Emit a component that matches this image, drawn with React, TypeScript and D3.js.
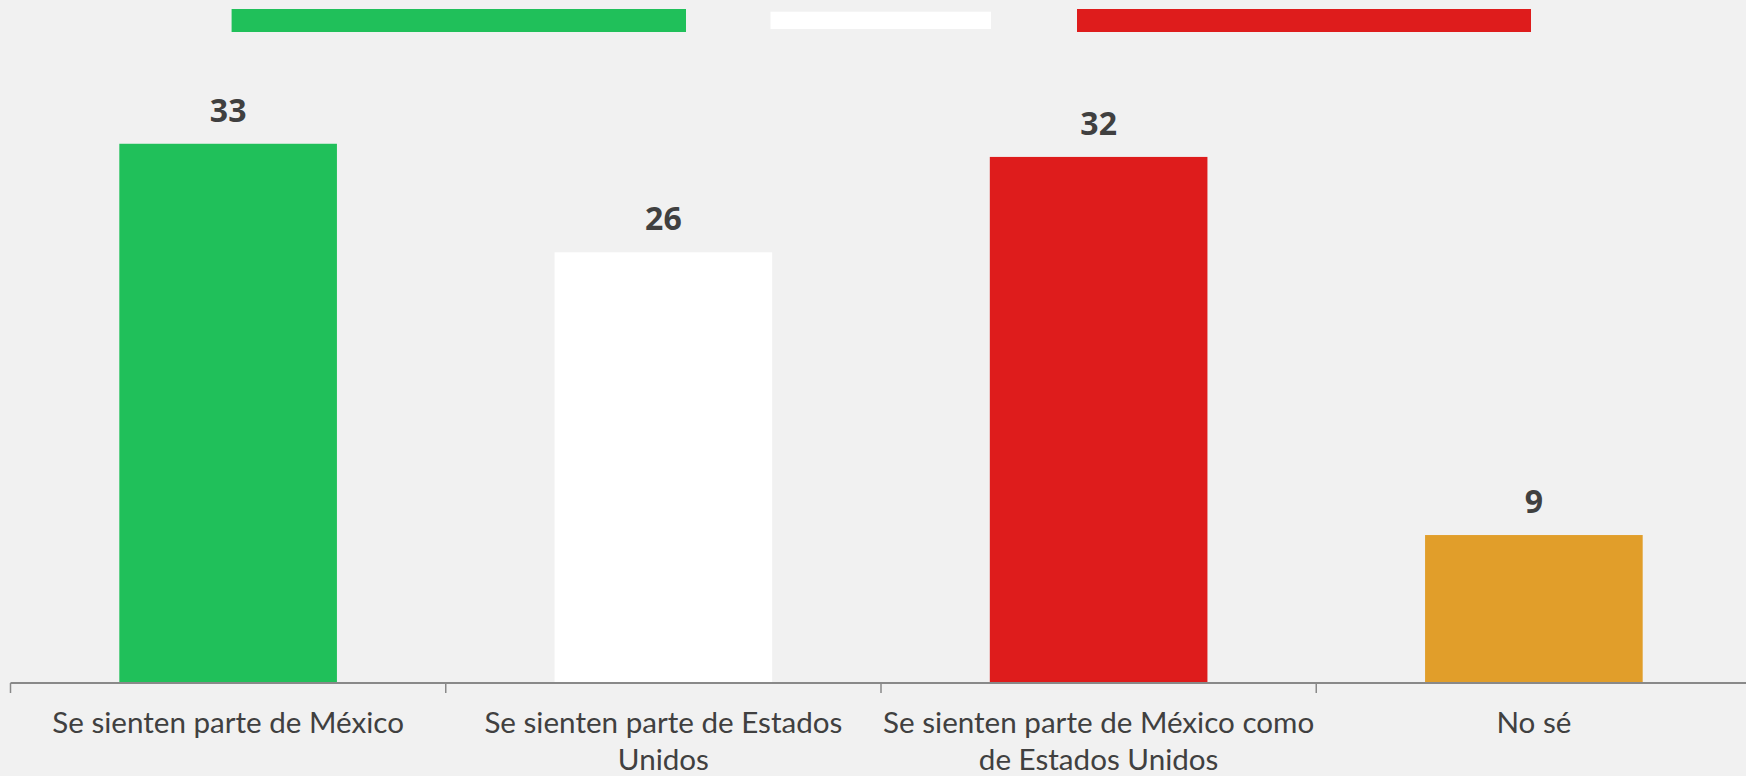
import React from "react";
import * as d3 from "d3";

const categories: string[][] = [
  ["Se sienten parte de México"],
  ["Se sienten parte de Estados", "Unidos"],
  ["Se sienten parte de México como", "de Estados Unidos"],
  ["No sé"],
];
const values: number[] = [32.8, 26.2, 32.0, 9.0];
const valueLabels: string[] = ["33", "26", "32", "9"];
const barColors: string[] = ["#20c05a", "#ffffff", "#de1c1c", "#e19e2a"];
const legendColors: string[] = ["#20c05a", "#ffffff", "#de1c1c"];

const W = 1746;
const H = 776;
const axisY = 683;
const FONT = "Lato, 'Open Sans', sans-serif";

export default function App() {
  const x = d3
    .scaleBand<number>()
    .domain(d3.range(categories.length))
    .range([10.5, 1751.5])
    .paddingInner(0.5)
    .paddingOuter(0.25);
  const y = d3.scaleLinear().domain([0, 40]).range([axisY, axisY - 40 * 16.44]);
  const step = x.step();
  const tickXs = d3.range(categories.length + 1).map((i) => 10.5 + i * step);

  // legend swatches (decorative, no text)
  const legend = [
    { x0: 231.6, x1: 686, y0: 9, y1: 32 },
    { x0: 770.5, x1: 991, y0: 11.7, y1: 29 },
    { x0: 1077, x1: 1531, y0: 9, y1: 32 },
  ];

  return (
    <div style={{ position: "fixed", left: 0, top: 0, width: W, height: H }}>
      <svg width={W} height={H} style={{ display: "block" }}>
        <rect x={0} y={0} width={W} height={H} fill="#f1f1f1" />
        {legend.map((l, i) => (
          <rect
            key={"lg" + i}
            x={l.x0}
            y={l.y0}
            width={l.x1 - l.x0}
            height={l.y1 - l.y0}
            fill={legendColors[i]}
          />
        ))}
        {values.map((v, i) => (
          <g key={"b" + i}>
            <rect
              x={x(i)!}
              y={y(v)}
              width={x.bandwidth()}
              height={y(0) - y(v)}
              fill={barColors[i]}
            />
            <text
              x={x(i)! + x.bandwidth() / 2}
              y={y(v) - 22}
              textAnchor="middle"
              fontFamily="'Open Sans', sans-serif"
              fontWeight={700}
              fontSize={32}
              fill="#404040"
            >
              {valueLabels[i]}
            </text>
          </g>
        ))}
        <line x1={10.5} x2={W} y1={axisY} y2={axisY} stroke="#898989" strokeWidth={2} />
        {tickXs.map((tx, i) => (
          <line key={"t" + i} x1={tx} x2={tx} y1={axisY} y2={axisY + 10} stroke="#898989" strokeWidth={1.5} />
        ))}
        {categories.map((lines, i) => (
          <text
            key={"c" + i}
            textAnchor="middle"
            fontFamily={FONT}
            fontSize={29.6}
            fill="#404040"
          >
            {lines.map((ln, j) => (
              <tspan key={j} x={x(i)! + x.bandwidth() / 2} y={733 + j * 37}>
                {ln}
              </tspan>
            ))}
          </text>
        ))}
      </svg>
    </div>
  );
}
